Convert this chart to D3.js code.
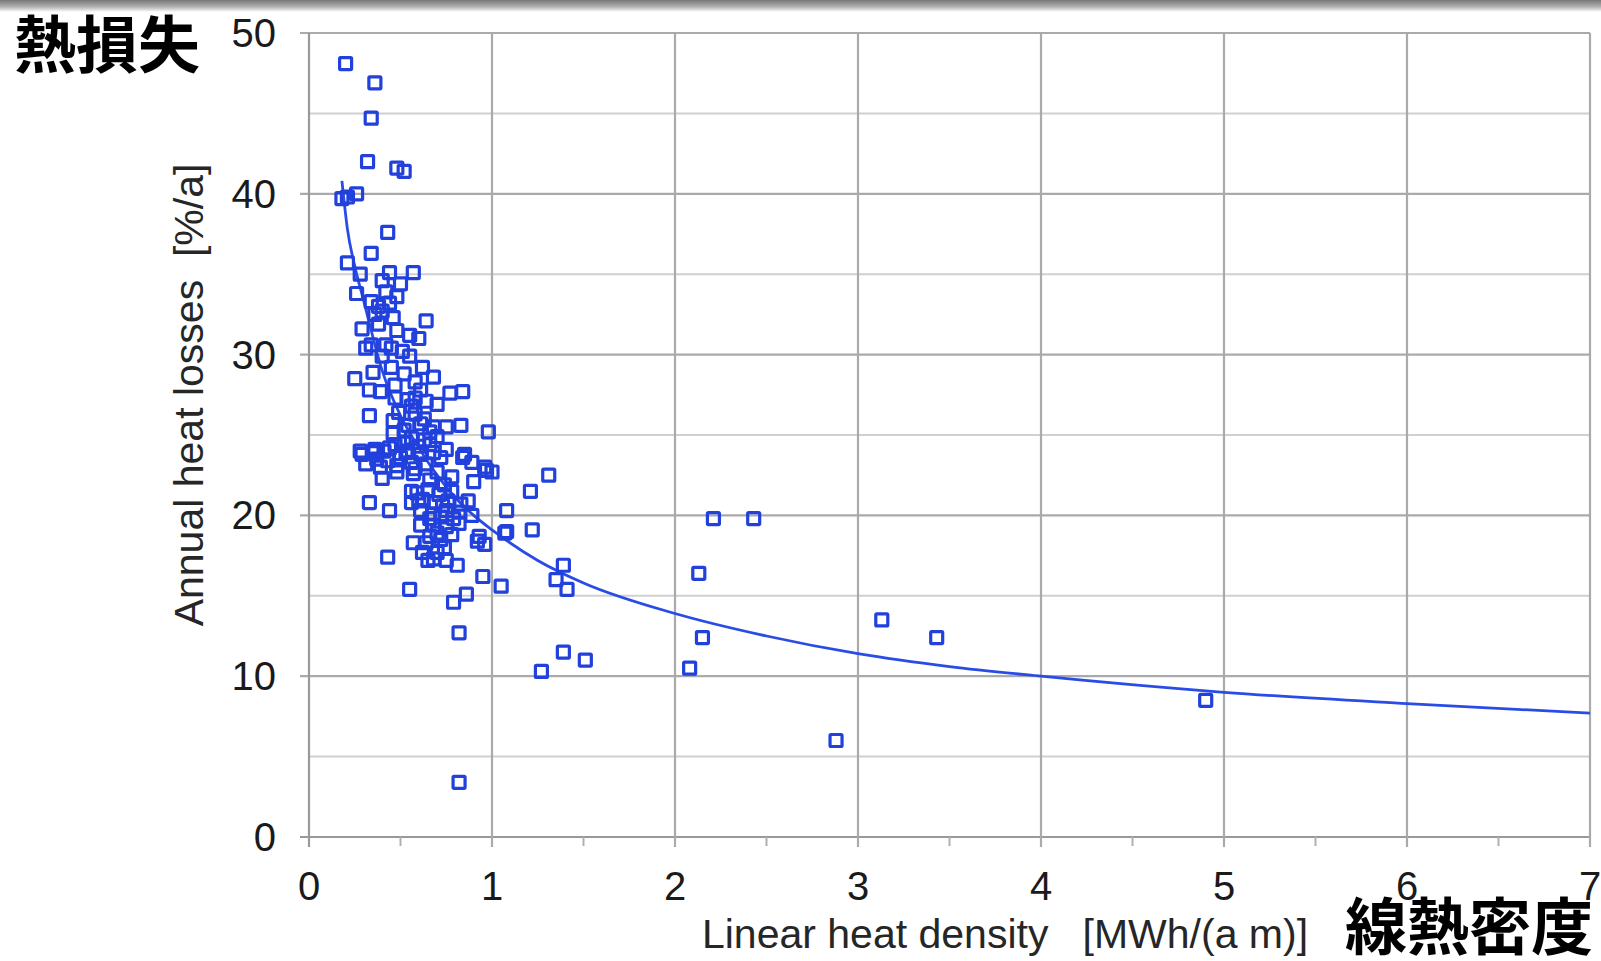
<!DOCTYPE html>
<html>
<head>
<meta charset="utf-8">
<script src="https://cdn.jsdelivr.net/npm/d3@7"></script>
<style>
  body { margin: 0; background: #fff; }
  svg { display: block; }
</style>
</head>
<body>
<div id="chart"></div>
<script>
// linear heat density [MWh/(a m)] per network
const densityX = [
  0.20, 0.36, 0.34, 0.32, 0.48, 0.52, 0.18, 0.21, 0.26, 0.43, 0.34, 0.21, 0.28, 0.44, 0.57, 0.40, 0.50, 0.26, 0.42, 0.34,
  0.44, 0.36, 0.46, 0.64, 0.48, 0.55, 0.60, 0.34, 0.42, 0.45, 0.51, 0.55, 0.62, 0.35, 0.25, 0.68, 0.33, 0.47, 0.61, 0.77,
  0.84, 0.47, 0.54, 0.58, 0.64, 0.70, 0.33, 0.46, 0.54, 0.61, 0.68, 0.75, 0.83, 0.98, 0.46, 0.56, 0.63, 0.70, 0.28, 0.36,
  0.44, 0.54, 0.61, 0.68, 0.75, 0.85, 0.31, 0.39, 0.48, 0.56, 0.64, 0.89, 0.96, 0.40, 0.48, 0.57, 0.70, 0.78, 0.90, 1.00,
  0.56, 0.59, 0.65, 0.71, 0.78, 0.33, 0.44, 0.56, 0.60, 0.69, 0.76, 0.83, 0.87, 0.61, 0.68, 0.75, 0.82, 1.08, 0.61, 0.68,
  0.75, 0.82, 0.93, 1.07, 0.57, 0.64, 0.72, 0.62, 0.70, 0.43, 0.75, 0.81, 0.65, 0.68, 0.95, 1.05, 0.55, 0.86, 0.79, 0.82,
  0.82, 0.96, 1.21, 1.31, 1.22, 1.39, 1.35, 1.41, 1.39, 1.27, 1.51, 2.13, 2.21, 2.43, 2.15, 2.08, 2.88, 3.13, 3.43, 4.90,
  0.92, 0.89, 1.08, 0.29, 0.84, 0.97, 0.58, 0.63, 0.66, 0.52, 0.60, 0.66, 0.72, 0.50, 0.58, 0.66, 0.74, 0.62, 0.73, 0.66,
  0.72, 0.79, 0.70, 0.78, 0.66, 0.74, 0.53, 0.47, 0.41, 0.37, 0.35, 0.43, 0.52, 0.49, 0.56, 0.39, 0.45, 0.52, 0.58, 0.40,
  0.38, 0.31, 0.29, 0.40, 0.48, 0.38
];
// annual heat losses [%/a]
const lossY = [
  48.1, 46.9, 44.7, 42.0, 41.6, 41.4, 39.7, 39.8, 40.0, 37.6, 36.3, 35.7, 35.0, 35.1, 35.1, 34.6, 34.4, 33.8, 33.9, 33.3,
  33.2, 32.5, 32.3, 32.1, 31.5, 31.2, 31.0, 30.6, 30.6, 30.4, 30.2, 29.9, 29.2, 28.9, 28.5, 28.6, 27.8, 28.1, 27.8, 27.6,
  27.7, 27.3, 27.2, 27.3, 27.1, 26.9, 26.2, 25.9, 25.6, 25.7, 25.5, 25.5, 25.6, 25.2, 25.1, 24.8, 24.7, 24.9, 24.0, 24.1,
  24.2, 24.0, 23.8, 23.9, 24.1, 23.8, 23.2, 23.0, 23.1, 23.3, 23.2, 23.3, 23.0, 22.3, 22.7, 22.6, 22.7, 22.4, 22.1, 22.7,
  21.5, 21.4, 21.6, 21.3, 21.5, 20.8, 20.3, 20.8, 20.9, 20.8, 20.9, 20.7, 20.9, 20.3, 20.1, 20.3, 20.2, 20.3, 19.4, 19.4,
  19.3, 19.5, 18.7, 18.9, 18.3, 18.3, 18.5, 17.7, 17.7, 17.4, 17.2, 16.9, 17.2, 17.3, 16.2, 15.6, 15.4, 15.1, 14.6, 12.7,
  3.4, 18.2, 21.5, 22.5, 19.1, 16.9, 16.0, 15.4, 11.5, 10.3, 11.0, 16.4, 19.8, 19.8, 12.4, 10.5, 6.0, 13.5, 12.4, 8.5,
  18.4, 20.0, 19.0, 23.8, 23.6, 22.8, 26.3, 26.0, 25.2, 24.5, 24.3, 24.4, 23.6, 23.6, 22.9, 22.2, 21.9, 21.0, 20.6, 19.8,
  19.9, 19.8, 18.9, 18.8, 18.7, 18.0, 23.9, 24.4, 24.0, 23.5, 23.9, 23.4, 25.3, 26.4, 26.8, 27.7, 29.2, 28.8, 28.3, 29.9,
  31.9, 30.4, 31.6, 32.7, 33.6, 33.0
];

// trend line
const trendX = [0.18, 0.21, 0.25, 0.30, 0.40, 0.50, 0.60, 0.70, 0.80, 0.90, 1.0, 1.25, 1.5, 2.0, 2.5, 3.0, 3.5, 4.0, 5.0, 6.0, 7.0];
const trendY = [40.8, 37.8, 35.5, 33.3, 29.0, 26.2, 24.2, 22.5, 21.1, 20.0, 19.1, 17.2, 15.8, 13.9, 12.5, 11.4, 10.6, 10.0, 9.0, 8.3, 7.7];

const xTicks = [0, 1, 2, 3, 4, 5, 6, 7];
const xMinorTicks = [0.5, 1.5, 2.5, 3.5, 4.5, 5.5, 6.5];
const yTicks = [0, 10, 20, 30, 40, 50];
const yMinorGrid = [5, 15, 25, 35, 45];

const width = 1601, height = 961;
const blue = "#2140dc";

const svg = d3.select("#chart")
    .append("svg")
    .attr("width", width)
    .attr("height", height);

// grey strip at the very top of the screenshot
const defs = svg.append("defs");
const grad = defs.append("linearGradient")
    .attr("id", "topfade")
    .attr("x1", 0).attr("y1", 0).attr("x2", 0).attr("y2", 1);
grad.append("stop").attr("offset", "0%").attr("stop-color", "#777");
grad.append("stop").attr("offset", "60%").attr("stop-color", "#b5b5b5");
grad.append("stop").attr("offset", "100%").attr("stop-color", "#ffffff");
svg.append("rect").attr("x", 0).attr("y", 0).attr("width", width).attr("height", 12)
    .attr("fill", "url(#topfade)");

const x = d3.scaleLinear().domain([0, 7]).range([309, 1590]);
const y = d3.scaleLinear().domain([0, 50]).range([837, 33]);

const grid = svg.append("g");

// minor horizontal grid
grid.selectAll(".minor")
    .data(yMinorGrid)
    .join("line")
    .attr("x1", x(0)).attr("x2", x(7))
    .attr("y1", d => y(d)).attr("y2", d => y(d))
    .attr("stroke", "#d0d0d0")
    .attr("stroke-width", 2);

// major horizontal grid (with left tick)
grid.selectAll(".major")
    .data(yTicks)
    .join("line")
    .attr("x1", x(0) - 9).attr("x2", x(7))
    .attr("y1", d => y(d)).attr("y2", d => y(d))
    .attr("stroke", d => d === 0 ? "#999" : "#aaa")
    .attr("stroke-width", 2.2);

// vertical grid (with bottom tick)
grid.selectAll(".vert")
    .data(xTicks)
    .join("line")
    .attr("x1", d => x(d)).attr("x2", d => x(d))
    .attr("y1", y(50)).attr("y2", y(0) + 10)
    .attr("stroke", d => d === 0 ? "#999" : "#aaa")
    .attr("stroke-width", 2.2);

grid.selectAll(".halftick")
    .data(xMinorTicks)
    .join("line")
    .attr("x1", d => x(d)).attr("x2", d => x(d))
    .attr("y1", y(0)).attr("y2", y(0) + 9)
    .attr("stroke", "#b0b0b0")
    .attr("stroke-width", 2);

// tick labels
const font = "'Liberation Sans', Arial, Helvetica, sans-serif";
svg.append("g")
    .selectAll("text")
    .data(yTicks)
    .join("text")
    .attr("x", 276)
    .attr("y", d => y(d) + 14)
    .attr("text-anchor", "end")
    .style("font-family", font)
    .style("font-size", "40px")
    .attr("fill", "#1a1a1a")
    .text(d => d);

svg.append("g")
    .selectAll("text")
    .data(xTicks)
    .join("text")
    .attr("x", d => x(d))
    .attr("y", 900)
    .attr("text-anchor", "middle")
    .style("font-family", font)
    .style("font-size", "40px")
    .attr("fill", "#1a1a1a")
    .text(d => d);

// axis titles
svg.append("text")
    .attr("transform", "translate(203,395) rotate(-90)")
    .attr("text-anchor", "middle")
    .style("font-family", font)
    .style("font-size", "41px")
    .style("white-space", "pre")
    .attr("fill", "#262626")
    .text("Annual heat losses  [%/a]");

svg.append("text")
    .attr("x", 1005)
    .attr("y", 948)
    .attr("text-anchor", "middle")
    .style("font-family", font)
    .style("font-size", "41px")
    .style("white-space", "pre")
    .attr("fill", "#262626")
    .text("Linear heat density   [MWh/(a m)]");

// trend line
const trend = trendX.map((v, i) => [v, trendY[i]]);
svg.append("path")
    .datum(trend)
    .attr("fill", "none")
    .attr("stroke", "#2a4ce6")
    .attr("stroke-width", 2.8)
    .attr("d", d3.line()
        .x(d => x(d[0]))
        .y(d => y(d[1]))
        .curve(d3.curveMonotoneX));

// data points, hollow squares
const pts = densityX.map((v, i) => [v, lossY[i]]);
svg.append("g")
    .selectAll("rect")
    .data(pts)
    .join("rect")
    .attr("x", d => x(d[0]) - 6)
    .attr("y", d => y(d[1]) - 6)
    .attr("width", 12)
    .attr("height", 12)
    .attr("rx", 1)
    .attr("fill", "none")
    .attr("stroke", blue)
    .attr("stroke-width", 3.2);

// Japanese annotations
const jp = "'Noto Sans CJK JP', 'Noto Sans CJK SC', sans-serif";
svg.append("text")
    .attr("x", 14)
    .attr("y", 68)
    .style("font-family", jp)
    .style("font-weight", "bold")
    .style("font-size", "62px")
    .attr("fill", "#000")
    .text("熱損失");

svg.append("text")
    .attr("x", 1593)
    .attr("y", 950)
    .attr("text-anchor", "end")
    .style("font-family", jp)
    .style("font-weight", "bold")
    .style("font-size", "62px")
    .attr("fill", "#000")
    .text("線熱密度");
</script>
</body>
</html>
